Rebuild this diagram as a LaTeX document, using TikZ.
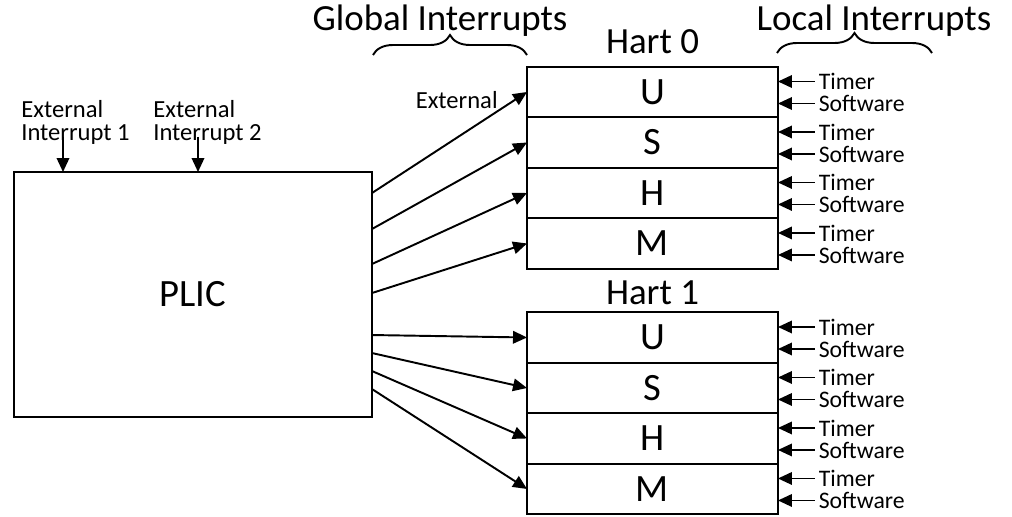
\documentclass[tikz,border=0pt]{standalone}
\usepackage{fontspec}
\setmainfont{Carlito}
\usetikzlibrary{arrows.meta, positioning, calc, decorations.pathreplacing}

\begin{document}
\begin{tikzpicture}[
  x=0.02cm, y=-0.02cm,
  blocco/.style={draw=black, line width=1.1pt, outer sep=0pt, inner sep=0pt,
                 font=\fontsize{22}{26}\selectfont},
  riga/.style={blocco, minimum width=5.02cm, minimum height=1.01cm},
  freccia/.style={draw=black, line width=1.1pt, -{Triangle[length=0.28cm,width=0.25cm]}},
  graffa/.style={draw=black, line width=1.1pt, decorate, decoration={brace, amplitude=0.4cm}},
  titolo/.style={font=\fontsize{21}{25}\selectfont, inner sep=0pt},
  didasc/.style={font=\fontsize{14}{13}\selectfont, inner sep=0pt, align=left},
  locale/.style={didasc, font=\fontsize{13.5}{13}\selectfont, inner xsep=2pt, anchor=west}
]
\useasboundingbox (0,0) rectangle (1012,517);

% controllore
\node[blocco, minimum width=7.16cm, minimum height=4.9cm] (plic) at (193,294.5) {PLIC};

% hart 0
\node[riga] (h0u) at (652.5,92) {U};
\node[riga, below=0pt of h0u] (h0s) {S};
\node[riga, below=0pt of h0s] (h0h) {H};
\node[riga, below=0pt of h0h] (h0m) {M};
\node[titolo, anchor=base] (hart0) at ([yshift=0.26cm]h0u.north) {Hart 0};

% hart 1
\node[riga] (h1u) at (652.5,337.5) {U};
\node[riga, below=0pt of h1u] (h1s) {S};
\node[riga, below=0pt of h1s] (h1h) {H};
\node[riga, below=0pt of h1h] (h1m) {M};
\node[titolo, anchor=base] (hart1) at ([yshift=0.16cm]h1u.north) {Hart 1};

% ingressi esterni
\node[didasc, anchor=north west] (ext1) at (21,100) {External\\Interrupt 1};
\node[didasc, anchor=north west] (ext2) at (153,100) {External\\Interrupt 2};
\coordinate (e1) at (63,137);
\coordinate (e2) at (198,137);
\draw[freccia] (e1) -- (e1 |- plic.north);
\draw[freccia] (e2) -- (e2 |- plic.north);

% interrupt globali
\node[didasc, anchor=east] (extg) at (498,100) {External};
\draw[freccia] ($(plic.north east)+(0,21)$) -- (h0u.west);
\draw[freccia] ($(plic.north east)+(0,57)$) -- (h0s.west);
\draw[freccia] ($(plic.north east)+(0,92)$) -- (h0h.west);
\draw[freccia] ($(plic.north east)+(0,121)$) -- (h0m.west);
\draw[freccia] ($(plic.north east)+(0,163)$) -- (h1u.west);
\draw[freccia] ($(plic.north east)+(0,181)$) -- (h1s.west);
\draw[freccia] ($(plic.north east)+(0,199)$) -- (h1h.west);
\draw[freccia] ($(plic.north east)+(0,217)$) -- (h1m.west);

% interrupt locali
\foreach \r in {h0u,h0s,h0h,h0m,h1u,h1s,h1h,h1m} {
  \node[locale] (\r t) at ([xshift=0.74cm, yshift=0.21cm]\r.east) {Timer};
  \node[locale] (\r s) at ([xshift=0.74cm, yshift=-0.23cm]\r.east) {Software};
  \draw[freccia] (\r t.west) -- (\r t.west -| \r.east);
  \draw[freccia] (\r s.west) -- (\r s.west -| \r.east);
}

% graffe
\draw[graffa] (373,55) -- (527,55);
\draw[graffa] (777,53) -- (932,53);
\node[titolo, anchor=base] (glob) at (440,31) {Global Interrupts};
\node[titolo, anchor=base] (loc) at (874,31) {Local Interrupts};

\end{tikzpicture}
\end{document}
